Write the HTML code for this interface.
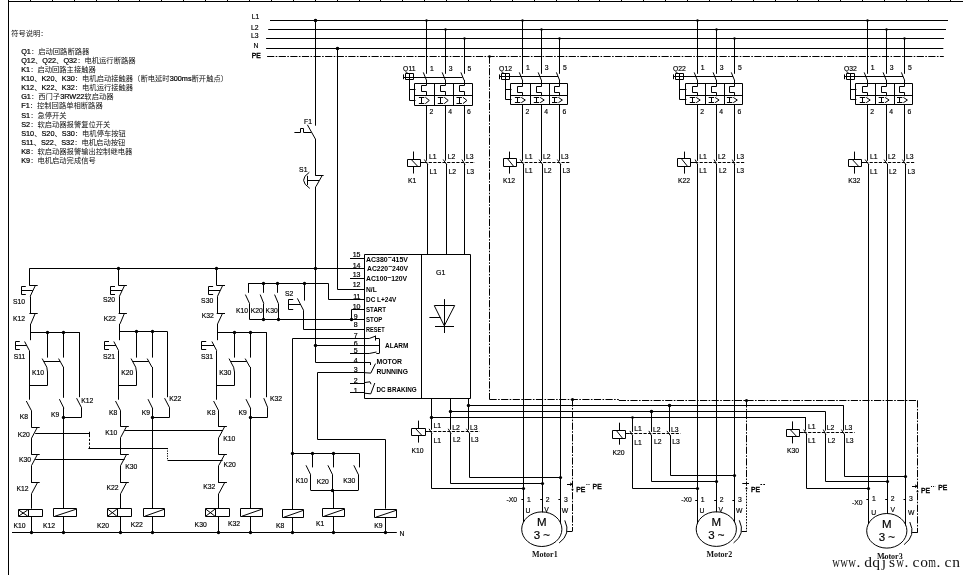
<!DOCTYPE html>
<html lang="zh"><head><meta charset="utf-8"><title>Soft starter wiring diagram</title>
<style>
html,body{margin:0;padding:0;background:#fff}
body{width:963px;height:575px;overflow:hidden}
svg{display:block;will-change:transform}
svg path,svg ellipse{fill:none;stroke:#000;stroke-width:1}
svg .d{fill:#000;stroke:none}
svg text{font-family:"Liberation Sans",sans-serif;font-size:6.8px;fill:#000;stroke:#000;stroke-width:.16px}
svg text.b{stroke-width:.4px}
svg text.c{stroke-width:.2px}
svg text.l{stroke-width:.2px}
svg text.g{font-weight:bold;stroke:none}
svg text.m{font-family:"Liberation Serif",serif;font-weight:bold;fill:#111;stroke:none}
svg text.w{font-family:"Liberation Serif",serif;font-size:15.5px;fill:#111;stroke:none;text-anchor:middle}
svg g.k text{font-family:"Liberation Sans","Noto Sans CJK SC",sans-serif;font-size:7.3px;fill:#111;stroke:none}
</style></head><body>
<svg width="963" height="575" viewBox="0 0 963 575">
<rect width="963" height="575" fill="#fff"/>
<g class="k">
<text x="11.2" y="36.07">符号说明：</text>
<text x="30.94" y="53.97">：启动回路断路器</text>
<text x="35" y="63.07">、</text>
<text x="56.09" y="63.07">、</text>
<text x="77.19" y="63.07">：电机运行断路器</text>
<text x="30.13" y="71.97">：启动回路主接触器</text>
<text x="34.19" y="81.07">、</text>
<text x="54.48" y="81.07">、</text>
<text x="74.76" y="81.07">：电机启动接触器（断电延时</text>
<text x="191.57" y="81.07">断开触点）</text>
<text x="34.19" y="90.17">、</text>
<text x="54.48" y="90.17">、</text>
<text x="74.76" y="90.17">：电机运行接触器</text>
<text x="30.94" y="99.07">：西门子</text>
<text x="84.35" y="99.07">软启动器</text>
<text x="29.72" y="107.97">：控制回路单相断路器</text>
<text x="30.13" y="118.27">：急停开关</text>
<text x="30.13" y="127.17">：软启动器报警复位开关</text>
<text x="34.19" y="136.27">、</text>
<text x="54.48" y="136.27">、</text>
<text x="74.76" y="136.27">：电机停车按钮</text>
<text x="33.65" y="145.17">、</text>
<text x="53.93" y="145.17">、</text>
<text x="74.22" y="145.17">：电机启动按钮</text>
<text x="30.13" y="154.27">：软启动器报警输出控制继电器</text>
<text x="30.13" y="163.17">：电机启动完成信号</text>
</g>
<text x="21.2" y="53.91" style="font-size:7.3px" class="l">Q1</text>
<text x="21.2" y="63.01" style="font-size:7.3px" class="l">Q12</text>
<text x="42.3" y="63.01" style="font-size:7.3px" class="l">Q22</text>
<text x="63.39" y="63.01" style="font-size:7.3px" class="l">Q32</text>
<text x="21.2" y="71.91" style="font-size:7.3px" class="l">K1</text>
<text x="21.2" y="81.01" style="font-size:7.3px" class="l">K10</text>
<text x="41.49" y="81.01" style="font-size:7.3px" class="l">K20</text>
<text x="61.78" y="81.01" style="font-size:7.3px" class="l">K30</text>
<text x="169.66" y="81.01" style="font-size:7.3px" class="l">300ms</text>
<text x="21.2" y="90.11" style="font-size:7.3px" class="l">K12</text>
<text x="41.49" y="90.11" style="font-size:7.3px" class="l">K22</text>
<text x="61.78" y="90.11" style="font-size:7.3px" class="l">K32</text>
<text x="21.2" y="99.01" style="font-size:7.3px" class="l">G1</text>
<text x="60.14" y="99.01" style="font-size:7.3px" class="l">3RW22</text>
<text x="21.2" y="107.91" style="font-size:7.3px" class="l">F1</text>
<text x="21.2" y="118.21" style="font-size:7.3px" class="l">S1</text>
<text x="21.2" y="127.11" style="font-size:7.3px" class="l">S2</text>
<text x="21.2" y="136.21" style="font-size:7.3px" class="l">S10</text>
<text x="41.49" y="136.21" style="font-size:7.3px" class="l">S20</text>
<text x="61.78" y="136.21" style="font-size:7.3px" class="l">S30</text>
<text x="21.2" y="145.11" style="font-size:7.3px" class="l">S11</text>
<text x="40.95" y="145.11" style="font-size:7.3px" class="l">S22</text>
<text x="61.23" y="145.11" style="font-size:7.3px" class="l">S32</text>
<text x="21.2" y="154.21" style="font-size:7.3px" class="l">K8</text>
<text x="21.2" y="163.11" style="font-size:7.3px" class="l">K9</text>
<path d="M8.5 1L8.5 575" stroke-width="1"/>
<path d="M8 1.5L963 1.5" stroke-width="1"/>
<path d="M8.5 0L8.5 1.5" stroke-width="1"/>
<path d="M30.5 0L30.5 1.5" stroke-width="1"/>
<path d="M52.5 0L52.5 1.5" stroke-width="1"/>
<path d="M74.5 0L74.5 1.5" stroke-width="1"/>
<path d="M96.5 0L96.5 1.5" stroke-width="1"/>
<path d="M118.5 0L118.5 1.5" stroke-width="1"/>
<path d="M139.5 0L139.5 1.5" stroke-width="1"/>
<path d="M161.5 0L161.5 1.5" stroke-width="1"/>
<path d="M183.5 0L183.5 1.5" stroke-width="1"/>
<path d="M205.5 0L205.5 1.5" stroke-width="1"/>
<path d="M227.5 0L227.5 1.5" stroke-width="1"/>
<path d="M249.5 0L249.5 1.5" stroke-width="1"/>
<path d="M271.5 0L271.5 1.5" stroke-width="1"/>
<path d="M293.5 0L293.5 1.5" stroke-width="1"/>
<path d="M315.5 0L315.5 1.5" stroke-width="1"/>
<path d="M337.5 0L337.5 1.5" stroke-width="1"/>
<path d="M359.5 0L359.5 1.5" stroke-width="1"/>
<path d="M380.5 0L380.5 1.5" stroke-width="1"/>
<path d="M402.5 0L402.5 1.5" stroke-width="1"/>
<path d="M424.5 0L424.5 1.5" stroke-width="1"/>
<path d="M446.5 0L446.5 1.5" stroke-width="1"/>
<path d="M468.5 0L468.5 1.5" stroke-width="1"/>
<path d="M490.5 0L490.5 1.5" stroke-width="1"/>
<path d="M512.5 0L512.5 1.5" stroke-width="1"/>
<path d="M534.5 0L534.5 1.5" stroke-width="1"/>
<path d="M556.5 0L556.5 1.5" stroke-width="1"/>
<path d="M578.5 0L578.5 1.5" stroke-width="1"/>
<path d="M599.5 0L599.5 1.5" stroke-width="1"/>
<path d="M621.5 0L621.5 1.5" stroke-width="1"/>
<path d="M643.5 0L643.5 1.5" stroke-width="1"/>
<path d="M665.5 0L665.5 1.5" stroke-width="1"/>
<path d="M687.5 0L687.5 1.5" stroke-width="1"/>
<path d="M709.5 0L709.5 1.5" stroke-width="1"/>
<path d="M731.5 0L731.5 1.5" stroke-width="1"/>
<path d="M753.5 0L753.5 1.5" stroke-width="1"/>
<path d="M775.5 0L775.5 1.5" stroke-width="1"/>
<path d="M797.5 0L797.5 1.5" stroke-width="1"/>
<path d="M818.5 0L818.5 1.5" stroke-width="1"/>
<path d="M840.5 0L840.5 1.5" stroke-width="1"/>
<path d="M862.5 0L862.5 1.5" stroke-width="1"/>
<path d="M884.5 0L884.5 1.5" stroke-width="1"/>
<path d="M906.5 0L906.5 1.5" stroke-width="1"/>
<path d="M928.5 0L928.5 1.5" stroke-width="1"/>
<path d="M950.5 0L950.5 1.5" stroke-width="1"/>
<path d="M270 20.5L948 20.5"/>
<path d="M268.2 29.5L946 29.5"/>
<path d="M266.1 38.5L944 38.5"/>
<path d="M266.1 48.5L943.3 48.5"/>
<path d="M267.1 56.5L943.8 56.5" stroke-dasharray="7.2 1.4 1.6 1.4"/>
<text x="251.8" y="19.13">L1</text>
<text x="251" y="29.83">L2</text>
<text x="251" y="38.23">L3</text>
<text x="253.4" y="47.83">N</text>
<text x="251.8" y="57.93" class="b">PE</text>
<path d="M426.5 20.2L426.5 73.8"/>
<circle cx="426.5" cy="20.5" r="1.2" class="d"/>
<path d="M423.3 72.4L426.5 80.3" stroke-width="1.35"/>
<path d="M426.5 80L426.5 85.5L421.5 85.5L421.5 91.5L426.5 91.5L426.5 96" stroke-width="1.35"/>
<path d="M418.9 97.5L424.3 97.5" stroke-width="1.1"/>
<path d="M418.9 103.5L424.3 103.5" stroke-width="1.1"/>
<path d="M421.5 97.5L421.5 103.4" stroke-width="1.2"/>
<path d="M425.3 97.2L429.3 100.45L425.3 103.7" stroke-width="1.25"/>
<text x="429.9" y="70.93">1</text>
<text x="429.4" y="114.33">2</text>
<path d="M445.5 29.5L445.5 73.8"/>
<circle cx="445.5" cy="29.5" r="1.2" class="d"/>
<path d="M442.2 72.4L445.4 80.3" stroke-width="1.35"/>
<path d="M445.5 80L445.5 85.5L440.5 85.5L440.5 91.5L445.5 91.5L445.5 96" stroke-width="1.35"/>
<path d="M437.8 97.5L443.2 97.5" stroke-width="1.1"/>
<path d="M437.8 103.5L443.2 103.5" stroke-width="1.1"/>
<path d="M440.5 97.5L440.5 103.4" stroke-width="1.2"/>
<path d="M444.2 97.2L448.2 100.45L444.2 103.7" stroke-width="1.25"/>
<text x="448.8" y="70.93">3</text>
<text x="448.3" y="114.33">4</text>
<path d="M464.5 38.5L464.5 73.8"/>
<circle cx="464.5" cy="38.5" r="1.2" class="d"/>
<path d="M460.9 72.4L464.1 80.3" stroke-width="1.35"/>
<path d="M464.5 80L464.5 85.5L459.5 85.5L459.5 91.5L464.5 91.5L464.5 96" stroke-width="1.35"/>
<path d="M456.5 97.5L461.9 97.5" stroke-width="1.1"/>
<path d="M456.5 103.5L461.9 103.5" stroke-width="1.1"/>
<path d="M459.5 97.5L459.5 103.4" stroke-width="1.2"/>
<path d="M462.9 97.2L466.9 100.45L462.9 103.7" stroke-width="1.25"/>
<text x="467.5" y="70.93">5</text>
<text x="467" y="114.33">6</text>
<path d="M414.5 83.5H472.5V105.5H414.5Z" stroke-width="1.35"/>
<path d="M414.3 95.5L472.4 95.5"/>
<path d="M434.5 83.2L434.5 105.4"/>
<path d="M453.5 83.2L453.5 105.4"/>
<path d="M403.5 77.5L462.5 77.5"/>
<path d="M403.5 74.4L403.5 79.2" stroke-width="1.2"/>
<path d="M405.5 73.5H413.5V79.5H405.5Z" stroke-width="1"/>
<path d="M409.5 73.9L409.5 79.3" stroke-width="1"/>
<path d="M409.5 79.3L409.5 100.5L415.5 100.5"/>
<path d="M409.5 89.5L415.5 89.5"/>
<text x="403.1" y="70.93">Q11</text>
<path d="M426.5 105.4L426.5 160.7"/>
<path d="M424.3 159.5L427.8 164.5" stroke-width="1.5"/>
<path d="M427.5 163.9L427.5 254.6"/>
<text x="428.9" y="159.03">L1</text>
<text x="429.5" y="173.73">L1</text>
<path d="M445.5 105.4L445.5 160.7"/>
<path d="M443.2 159.5L446.7 164.5" stroke-width="1.5"/>
<path d="M446.5 163.9L446.5 254.6"/>
<text x="447.7" y="159.03">L2</text>
<text x="448.4" y="173.73">L2</text>
<path d="M464.5 105.4L464.5 160.7"/>
<path d="M461.9 159.5L465 164.5" stroke-width="1.5"/>
<path d="M464.5 163.9L464.5 254.6"/>
<text x="466" y="159.03">L3</text>
<text x="466.6" y="173.73">L3</text>
<path d="M407.5 159.5H420.5V166.5H407.5Z" stroke-width="1.3"/>
<path d="M411.5 159.8L417.5 166.1" stroke-width="1.8"/>
<path d="M413.5 151.5L413.5 159.5"/>
<path d="M413.5 166.4L413.5 173.5"/>
<path d="M420.7 162.5L424.1 162.5"/>
<path d="M424.1 162.5L474.9 162.5" stroke-dasharray="3.2 1.4"/>
<text x="408" y="182.93">K1</text>
<path d="M364.5 254.5H470.5V398.5H364.5Z" stroke-width="1.35"/>
<path d="M421.5 254.6L421.5 398.2"/>
<text x="436" y="275.01" style="font-size:7px">G1</text>
<path d="M444.5 299.1L444.5 333"/>
<path d="M434.3 305.5L454.7 305.5L444.3 325.8L434.3 305.7" stroke-width="1.1"/>
<path d="M435 326.5L454 326.5"/>
<path d="M429.4 317.5L440.6 317.5"/>
<text x="360.5" y="257.11" text-anchor="end" class="c" style="font-size:7px">15</text>
<text x="360.5" y="268.11" text-anchor="end" class="c" style="font-size:7px">14</text>
<text x="360.5" y="276.71" text-anchor="end" class="c" style="font-size:7px">13</text>
<text x="360.5" y="287.11" text-anchor="end" class="c" style="font-size:7px">12</text>
<text x="360.5" y="298.81" text-anchor="end" class="c" style="font-size:7px">11</text>
<text x="360.5" y="308.91" text-anchor="end" class="c" style="font-size:7px">10</text>
<text x="357.6" y="318.61" text-anchor="end" class="c" style="font-size:7px">9</text>
<text x="357.6" y="327.11" text-anchor="end" class="c" style="font-size:7px">8</text>
<text x="357.6" y="338.21" text-anchor="end" class="c" style="font-size:7px">7</text>
<text x="357.6" y="345.51" text-anchor="end" class="c" style="font-size:7px">6</text>
<text x="357.6" y="352.71" text-anchor="end" class="c" style="font-size:7px">5</text>
<text x="357.6" y="362.81" text-anchor="end" class="c" style="font-size:7px">4</text>
<text x="357.6" y="371.71" text-anchor="end" class="c" style="font-size:7px">3</text>
<text x="357.6" y="382.91" text-anchor="end" class="c" style="font-size:7px">2</text>
<text x="357.6" y="392.51" text-anchor="end" class="c" style="font-size:7px">1</text>
<path d="M350 258.5L364.4 258.5"/>
<path d="M350 278.5L364.4 278.5"/>
<path d="M350 353.5L364.4 353.5"/>
<path d="M350 383.5L364.4 383.5"/>
<path d="M350 392.5L364.4 392.5"/>
<text x="366" y="262.01" class="g" textLength="42" lengthAdjust="spacingAndGlyphs" style="font-size:7px">AC380<tspan dy="-1.7">~</tspan><tspan dy="1.7">415V</tspan></text>
<text x="367" y="271.11" class="g" textLength="41" lengthAdjust="spacingAndGlyphs" style="font-size:7px">AC220<tspan dy="-1.7">~</tspan><tspan dy="1.7">240V</tspan></text>
<text x="366" y="281.21" class="g" textLength="41.2" lengthAdjust="spacingAndGlyphs" style="font-size:7px">AC100<tspan dy="-1.7">~</tspan><tspan dy="1.7">120V</tspan></text>
<text x="366" y="292.11" class="g" textLength="10.8" lengthAdjust="spacingAndGlyphs" style="font-size:7px">N/L</text>
<text x="366" y="301.91" class="g" textLength="30.3" lengthAdjust="spacingAndGlyphs" style="font-size:7px">DC L+24V</text>
<text x="366" y="312.01" class="g" textLength="20" lengthAdjust="spacingAndGlyphs" style="font-size:7px">START</text>
<text x="366" y="322.11" class="g" textLength="16.4" lengthAdjust="spacingAndGlyphs" style="font-size:7px">STOP</text>
<text x="366" y="332.01" class="g" textLength="18.6" lengthAdjust="spacingAndGlyphs" style="font-size:7px">RESET</text>
<text x="385" y="347.91" class="g" textLength="23.4" lengthAdjust="spacingAndGlyphs" style="font-size:7px">ALARM</text>
<text x="376.5" y="364.01" class="g" textLength="25.5" lengthAdjust="spacingAndGlyphs" style="font-size:7px">MOTOR</text>
<text x="376.5" y="373.91" class="g" textLength="31.5" lengthAdjust="spacingAndGlyphs" style="font-size:7px">RUNNING</text>
<text x="376.5" y="391.71" class="g" textLength="40.2" lengthAdjust="spacingAndGlyphs" style="font-size:7px">DC BRAKING</text>
<path d="M364.4 338.5L369.2 338.5L375.9 336"/>
<path d="M375.5 335.8L375.5 340.6"/>
<path d="M375.5 338.5L379.2 338.5"/>
<path d="M364.4 345.5L379.2 345.5"/>
<path d="M379.5 338.5L379.5 353.4"/>
<path d="M364.4 353.5L369.2 353.5L376.5 352"/>
<path d="M376.3 353.5L379.2 353.5"/>
<path d="M364.4 362.5L370.5 362.5L370.5 365"/>
<path d="M364.4 372.7L370.8 373.1L375.5 363.6" stroke-width="1.2"/>
<path d="M364.4 382.6L370 381.8L371 384.2"/>
<path d="M364.4 393.2L370.8 393.8L374.8 383" stroke-width="1.2"/>
<circle cx="315.5" cy="20.5" r="1.8" class="d"/>
<circle cx="337.5" cy="48.5" r="1.8" class="d"/>
<path d="M315.5 20.2L315.5 125.7"/>
<path d="M307.4 124.8L315.4 139" stroke-width="1.35"/>
<path d="M294.4 132.5L300.5 132.5L300.5 128.5L303.5 128.5L303.5 132.5L311.4 132.5"/>
<text x="304" y="123.83">F1</text>
<path d="M315.5 139L315.5 175.8"/>
<path d="M315.6 175.5L323.6 175.5"/>
<path d="M322 175.8L315.9 186.7" stroke-width="1.35"/>
<path d="M309.3 172.3Q297.6 180.2 309.8 188.4" stroke-width="1.4"/>
<path d="M307.5 175.8L307.5 185.2"/>
<path d="M307 180.5L319.2 180.5"/>
<text x="299.1" y="171.93">S1</text>
<path d="M315.5 186.7L315.5 362.5"/>
<path d="M315.6 362.5L364.4 362.5"/>
<circle cx="315.5" cy="268.5" r="1.7" class="d"/>
<circle cx="315.5" cy="345.5" r="1.7" class="d"/>
<path d="M315.6 345.5L364.4 345.5"/>
<path d="M337.5 48.4L337.5 289.5L364.4 289.5"/>
<path d="M29.4 268.5L364.4 268.5"/>
<path d="M248.2 283.5L328.5 283.5L328.5 299.5L364.4 299.5"/>
<path d="M249.6 319.5L364.4 319.5"/>
<path d="M248.5 283.2L248.5 292.8"/>
<path d="M245.4 294.6L249.6 303.6" stroke-width="1.35"/>
<path d="M249.5 303.6L249.5 319.6"/>
<text x="236" y="312.73">K10</text>
<path d="M263.5 283.2L263.5 292.8"/>
<path d="M260.2 294.6L263.8 303.6" stroke-width="1.35"/>
<path d="M263.5 303.6L263.5 319.6"/>
<circle cx="263.5" cy="283.5" r="1.7" class="d"/>
<circle cx="263.5" cy="319.5" r="1.7" class="d"/>
<text x="250.7" y="312.73">K20</text>
<path d="M277.5 283.2L277.5 292.8"/>
<path d="M274.6 294.6L278.4 303.6" stroke-width="1.35"/>
<path d="M278.5 303.6L278.5 319.6"/>
<circle cx="277.5" cy="283.5" r="1.7" class="d"/>
<circle cx="278.5" cy="319.5" r="1.7" class="d"/>
<text x="265.6" y="312.73">K30</text>
<circle cx="304.5" cy="283.5" r="1.7" class="d"/>
<path d="M304.5 283.2L304.5 300.6"/>
<path d="M297.4 298.4L303.5 310.2L303.5 329.5L364.4 329.5"/>
<path d="M293.2 299.5L288.5 299.5L288.5 309.5L293.2 309.5"/>
<path d="M288.5 304.5L300.8 304.5"/>
<text x="285" y="295.83">S2</text>
<path d="M364.4 309.5L351.5 309.5L351.5 319.6"/>
<circle cx="351.5" cy="319.5" r="1.7" class="d"/>
<path d="M29.5 268.4L29.5 285.6"/>
<path d="M29.4 285.5L37.7 285.5"/>
<path d="M35.3 285.6L30.2 296.3" stroke-width="1.35"/>
<path d="M25.8 286.5L21.5 286.5L21.5 294.5L25.8 294.5"/>
<path d="M21.4 290.5L32.8 290.5"/>
<text x="13" y="303.73">S10</text>
<path d="M30.5 296.3L30.5 313.2"/>
<path d="M29.4 313.5L37.7 313.5"/>
<path d="M35.3 313.2L30.8 323.9" stroke-width="1.35"/>
<text x="12.9" y="321.03">K12</text>
<path d="M30.5 323.9L30.5 340.2"/>
<path d="M30.6 332.5L79.5 332.5"/>
<circle cx="47.5" cy="332.5" r="1.7" class="d"/>
<circle cx="63.5" cy="332.5" r="1.7" class="d"/>
<path d="M24.6 341.5L29.4 350.6" stroke-width="1.35"/>
<path d="M19.8 341.5L15.5 341.5L15.5 349.5L19.8 349.5"/>
<path d="M15.4 345.5L26.8 345.5"/>
<text x="13.7" y="359.03">S11</text>
<path d="M29.5 350.6L29.5 399.7"/>
<path d="M47.5 332.2L47.5 357.6"/>
<path d="M42.2 358.6L46.8 367.2" stroke-width="1.35"/>
<path d="M46.8 367.2L47.5 372L47.5 385.5L29.4 385.5"/>
<path d="M63.5 332.2L63.5 357.6"/>
<path d="M58.6 358.6L63.4 367.2" stroke-width="1.35"/>
<path d="M63.5 367L63.5 397.8"/>
<path d="M43.6 361.5L60.2 361.5"/>
<text x="32" y="375.13">K10</text>
<path d="M26.3 401L31.4 410.6" stroke-width="1.35"/>
<text x="19.8" y="418.73">K8</text>
<path d="M59.4 399.2L63.9 408.2" stroke-width="1.35"/>
<text x="51" y="416.83">K9</text>
<circle cx="63.5" cy="417.5" r="1.7" class="d"/>
<path d="M63.5 408L63.5 508.7"/>
<path d="M79.5 332.2L79.5 397.2"/>
<path d="M76.6 398.2L81.5 407.6" stroke-width="1.35"/>
<path d="M81.5 407.4L81.5 417.5L63.8 417.5"/>
<text x="81.2" y="402.93">K12</text>
<path d="M31.5 410.4L31.5 427.4"/>
<path d="M31.4 427.5L39.7 427.5"/>
<path d="M37.3 427.4L31.6 438.1" stroke-width="1.35"/>
<path d="M31.5 438.1L31.5 454.7"/>
<path d="M31.4 454.5L39.7 454.5"/>
<path d="M37.3 454.7L31.6 465.4" stroke-width="1.35"/>
<path d="M31.5 465.4L31.5 482.9"/>
<path d="M31.4 482.5L39.7 482.5"/>
<path d="M37.3 482.9L31.6 493.6" stroke-width="1.35"/>
<path d="M31.5 493.6L31.5 508.7"/>
<circle cx="118.5" cy="268.5" r="1.7" class="d"/>
<path d="M118.5 268.4L118.5 285.6"/>
<path d="M118.6 285.5L126.9 285.5"/>
<path d="M124.5 285.6L119.4 296.3" stroke-width="1.35"/>
<path d="M115 286.5L110.5 286.5L110.5 294.5L115 294.5"/>
<path d="M110.6 290.5L122 290.5"/>
<text x="103" y="302.03">S20</text>
<path d="M119.5 296.3L119.5 313.2"/>
<path d="M118.6 313.5L126.9 313.5"/>
<path d="M124.5 313.2L120 323.9" stroke-width="1.35"/>
<text x="103.7" y="321.03">K22</text>
<path d="M119.5 323.9L119.5 340.2"/>
<path d="M119.8 331.5L167.5 331.5"/>
<circle cx="136.5" cy="331.5" r="1.7" class="d"/>
<circle cx="152.5" cy="331.5" r="1.7" class="d"/>
<path d="M113.8 341.5L118.6 350.6" stroke-width="1.35"/>
<path d="M109 341.5L104.5 341.5L104.5 349.5L109 349.5"/>
<path d="M104.6 345.5L116 345.5"/>
<text x="102.9" y="359.03">S21</text>
<path d="M118.5 350.6L118.5 399.7"/>
<path d="M136.5 331.6L136.5 357.6"/>
<path d="M131.1 358.6L135.7 367.2" stroke-width="1.35"/>
<path d="M135.7 367.2L136.5 372L136.5 385.5L118.6 385.5"/>
<path d="M152.5 331.6L152.5 357.6"/>
<path d="M147.2 358.6L152 367.2" stroke-width="1.35"/>
<path d="M152.5 367L152.5 397.8"/>
<path d="M132.5 361.5L148.8 361.5"/>
<text x="121.2" y="375.13">K20</text>
<path d="M115.5 401L120.5 410.6" stroke-width="1.35"/>
<text x="109" y="414.83">K8</text>
<path d="M148 399.2L152.5 408.2" stroke-width="1.35"/>
<text x="141.7" y="414.63">K9</text>
<circle cx="152.5" cy="417.5" r="1.7" class="d"/>
<path d="M152.5 408L152.5 508.7"/>
<path d="M167.5 331.6L167.5 397.2"/>
<path d="M164.6 398.2L169.5 407.6" stroke-width="1.35"/>
<path d="M169.5 407.4L169.5 417.5L152.4 417.5"/>
<text x="169.2" y="401.03">K22</text>
<path d="M120.5 410.4L120.5 426.7"/>
<path d="M120.5 426.5L128.8 426.5"/>
<path d="M126.4 426.7L120.7 437.4" stroke-width="1.35"/>
<path d="M120.5 437.4L120.5 454.7"/>
<path d="M120.5 454.5L128.8 454.5"/>
<path d="M126.4 454.7L120.7 465.4" stroke-width="1.35"/>
<path d="M120.5 465.4L120.5 482.9"/>
<path d="M120.5 482.5L128.8 482.5"/>
<path d="M126.4 482.9L120.7 493.6" stroke-width="1.35"/>
<path d="M120.5 493.6L120.5 508.7"/>
<circle cx="216.5" cy="268.5" r="1.7" class="d"/>
<path d="M216.5 268.4L216.5 285.6"/>
<path d="M216.7 285.5L225 285.5"/>
<path d="M222.6 285.6L217.5 296.3" stroke-width="1.35"/>
<path d="M213.1 286.5L208.5 286.5L208.5 294.5L213.1 294.5"/>
<path d="M208.7 290.5L220.1 290.5"/>
<text x="201.1" y="302.63">S30</text>
<path d="M217.5 296.3L217.5 313.2"/>
<path d="M216.7 313.5L225 313.5"/>
<path d="M222.6 313.2L217.6 323.9" stroke-width="1.35"/>
<text x="201.8" y="318.03">K32</text>
<path d="M217.5 323.9L217.5 340.2"/>
<path d="M217.4 332.5L266.7 332.5"/>
<circle cx="234.5" cy="332.5" r="1.7" class="d"/>
<circle cx="250.5" cy="332.5" r="1.7" class="d"/>
<path d="M211.9 341.5L216.7 350.6" stroke-width="1.35"/>
<path d="M206.2 341.5L201.5 341.5L201.5 349.5L206.2 349.5"/>
<path d="M201.8 345.5L214.1 345.5"/>
<text x="201" y="359.03">S31</text>
<path d="M216.5 350.6L216.5 399.7"/>
<path d="M234.5 332.3L234.5 357.6"/>
<path d="M229 358.6L233.6 367.2" stroke-width="1.35"/>
<path d="M233.6 367.2L234.5 372L234.5 385.5L216.7 385.5"/>
<path d="M250.5 332.3L250.5 357.6"/>
<path d="M245.2 358.6L250 367.2" stroke-width="1.35"/>
<path d="M250.5 367L250.5 397.8"/>
<path d="M230.4 361.5L246.8 361.5"/>
<text x="219.3" y="375.13">K30</text>
<path d="M213.6 401L218.6 410.6" stroke-width="1.35"/>
<text x="207.1" y="414.83">K8</text>
<path d="M246 399.2L250.5 408.2" stroke-width="1.35"/>
<text x="238.5" y="414.63">K9</text>
<circle cx="250.5" cy="417.5" r="1.7" class="d"/>
<path d="M250.5 408L250.5 508.7"/>
<path d="M266.5 332.3L266.5 397.2"/>
<path d="M263.8 398.2L267.7 407.6" stroke-width="1.35"/>
<path d="M267.5 407.4L267.5 417.5L250.4 417.5"/>
<text x="269.9" y="401.03">K32</text>
<path d="M218.5 410.4L218.5 426.9"/>
<path d="M218.6 426.5L226.9 426.5"/>
<path d="M224.5 426.9L218.8 437.6" stroke-width="1.35"/>
<path d="M218.5 437.6L218.5 454.7"/>
<path d="M218.6 454.5L226.9 454.5"/>
<path d="M224.5 454.7L218.8 465.4" stroke-width="1.35"/>
<path d="M218.5 465.4L218.5 482.9"/>
<path d="M218.6 482.5L226.9 482.5"/>
<path d="M224.5 482.9L218.8 493.6" stroke-width="1.35"/>
<path d="M218.5 493.6L218.5 508.7"/>
<text x="17.8" y="437.03">K20</text>
<text x="18.9" y="461.73">K30</text>
<text x="16.4" y="490.63">K12</text>
<text x="105.2" y="435.03">K10</text>
<text x="125.2" y="469.03">K30</text>
<text x="106.4" y="490.03">K22</text>
<text x="223.2" y="441.03">K10</text>
<text x="223.6" y="467.13">K20</text>
<text x="203.3" y="489.03">K32</text>
<path d="M35.2 433.5L89.6 433.5"/>
<path d="M89.5 431.8L89.5 435.2"/>
<path d="M89.5 435L89.5 448" stroke-dasharray="2.2 1.6"/>
<path d="M88.4 448.5L167.8 448.5"/>
<path d="M167.5 448L167.5 460.6" stroke-dasharray="1.2 1.3"/>
<path d="M167.6 460.5L222.6 460.5"/>
<path d="M35.2 459.5L124.6 459.5"/>
<path d="M124.6 430.5L222.8 430.5"/>
<path d="M18.5 509.5H42.5V516.5H18.5Z" stroke-width="1.3"/>
<path d="M28.5 509.5L28.5 516.6" stroke-width="1.2"/>
<path d="M18.7 510L27.7 516.1" stroke-width="1.2"/>
<path d="M18.7 516.1L27.7 510" stroke-width="1.2"/>
<path d="M31.5 516.6L31.5 532.6"/>
<circle cx="31.5" cy="532.5" r="1.7" class="d"/>
<text x="13.5" y="528.13">K10</text>
<path d="M53.5 508.5H76.5V516.5H53.5Z" stroke-width="1.3"/>
<path d="M55 516.2L75.9 509.3" stroke-width="1.5"/>
<path d="M63.5 516.6L63.5 532.6"/>
<circle cx="63.5" cy="532.5" r="1.7" class="d"/>
<text x="43" y="528.13">K12</text>
<path d="M107.5 508.5H131.5V516.5H107.5Z" stroke-width="1.3"/>
<path d="M117.5 508.7L117.5 516.6" stroke-width="1.2"/>
<path d="M107.8 509.2L116.8 516.1" stroke-width="1.2"/>
<path d="M107.8 516.1L116.8 509.2" stroke-width="1.2"/>
<path d="M120.5 516.6L120.5 532.6"/>
<circle cx="120.5" cy="532.5" r="1.7" class="d"/>
<text x="97" y="528.13">K20</text>
<path d="M143.5 508.5H164.5V516.5H143.5Z" stroke-width="1.3"/>
<path d="M144.9 516.2L164.2 509.3" stroke-width="1.5"/>
<path d="M152.5 516.6L152.5 532.6"/>
<circle cx="152.5" cy="532.5" r="1.7" class="d"/>
<text x="130.8" y="526.63">K22</text>
<path d="M205.5 508.5H229.5V516.5H205.5Z" stroke-width="1.3"/>
<path d="M215.5 508.7L215.5 516.6" stroke-width="1.2"/>
<path d="M205.9 509.2L214.9 516.1" stroke-width="1.2"/>
<path d="M205.9 516.1L214.9 509.2" stroke-width="1.2"/>
<path d="M218.5 516.6L218.5 532.6"/>
<circle cx="218.5" cy="532.5" r="1.7" class="d"/>
<text x="194.6" y="527.33">K30</text>
<path d="M240.5 508.5H262.5V516.5H240.5Z" stroke-width="1.3"/>
<path d="M242 516.2L261.6 509.3" stroke-width="1.5"/>
<path d="M250.5 516.6L250.5 532.6"/>
<circle cx="250.5" cy="532.5" r="1.7" class="d"/>
<text x="228" y="525.63">K32</text>
<path d="M282.5 509.5H303.5V517.5H282.5Z" stroke-width="1.3"/>
<path d="M284 517.2L303.5 510.3" stroke-width="1.5"/>
<path d="M292.5 517.6L292.5 532.6"/>
<circle cx="292.5" cy="532.5" r="1.7" class="d"/>
<text x="276" y="528.43">K8</text>
<path d="M322.5 508.5H344.5V516.5H322.5Z" stroke-width="1.3"/>
<path d="M324.2 516.2L344 509.3" stroke-width="1.5"/>
<path d="M333.5 516.6L333.5 532.6"/>
<circle cx="333.5" cy="532.5" r="1.7" class="d"/>
<text x="316" y="526.23">K1</text>
<path d="M374.5 509.5H396.5V517.5H374.5Z" stroke-width="1.3"/>
<path d="M375.8 517.2L396.3 510.3" stroke-width="1.5"/>
<path d="M385.5 517.6L385.5 532.6"/>
<circle cx="385.5" cy="532.5" r="1.7" class="d"/>
<text x="374.2" y="528.43">K9</text>
<path d="M12 532.5L396.8 532.5"/>
<text x="399.6" y="536.23">N</text>
<path d="M364.4 338.5L292.5 338.5L292.5 509.7"/>
<circle cx="292.5" cy="453.5" r="1.7" class="d"/>
<path d="M292.6 453.5L359.6 453.5"/>
<path d="M312.5 453.8L312.5 467.4"/>
<path d="M306 465.3L310.6 474.6" stroke-width="1.35"/>
<path d="M310.5 474.4L310.5 490.2"/>
<circle cx="312.5" cy="453.5" r="1.7" class="d"/>
<text x="295.7" y="482.83">K10</text>
<path d="M333.5 453.8L333.5 467.4"/>
<path d="M327.9 465.3L332.5 474.6" stroke-width="1.35"/>
<path d="M332.5 474.4L332.5 490.2"/>
<circle cx="333.5" cy="453.5" r="1.7" class="d"/>
<text x="316.7" y="483.93">K20</text>
<path d="M359.5 453.8L359.5 467.4"/>
<path d="M353.8 465.3L358.4 474.6" stroke-width="1.35"/>
<path d="M358.5 474.4L358.5 490.2"/>
<text x="343.3" y="482.83">K30</text>
<path d="M310.6 490.5L358.4 490.5"/>
<circle cx="332.5" cy="490.5" r="1.7" class="d"/>
<path d="M333.5 490.2L333.5 508.7"/>
<path d="M364.4 372.5L317.5 372.5L317.5 439.5L385.5 439.5L385.5 508.7"/>
<path d="M522.5 20.2L522.5 73.8"/>
<circle cx="522.5" cy="20.5" r="1.2" class="d"/>
<path d="M519.3 72.4L522.5 80.3" stroke-width="1.35"/>
<path d="M522.5 80L522.5 86.5L517.5 86.5L517.5 92.5L522.5 92.5L522.5 96.2" stroke-width="1.35"/>
<path d="M514.9 97.5L520.3 97.5" stroke-width="1.1"/>
<path d="M514.9 102.5L520.3 102.5" stroke-width="1.1"/>
<path d="M517.5 97.7L517.5 102.4" stroke-width="1.2"/>
<path d="M521.3 97.4L525.3 100.05L521.3 102.7" stroke-width="1.25"/>
<text x="525.9" y="70.23">1</text>
<text x="525.4" y="114.33">2</text>
<path d="M541.5 29.5L541.5 73.8"/>
<circle cx="541.5" cy="29.5" r="1.2" class="d"/>
<path d="M538.2 72.4L541.4 80.3" stroke-width="1.35"/>
<path d="M541.5 80L541.5 86.5L536.5 86.5L536.5 92.5L541.5 92.5L541.5 96.2" stroke-width="1.35"/>
<path d="M533.8 97.5L539.2 97.5" stroke-width="1.1"/>
<path d="M533.8 102.5L539.2 102.5" stroke-width="1.1"/>
<path d="M536.5 97.7L536.5 102.4" stroke-width="1.2"/>
<path d="M540.2 97.4L544.2 100.05L540.2 102.7" stroke-width="1.25"/>
<text x="544.8" y="70.23">3</text>
<text x="544.3" y="114.33">4</text>
<path d="M559.5 38.5L559.5 73.8"/>
<circle cx="559.5" cy="38.5" r="1.2" class="d"/>
<path d="M556.4 72.4L559.6 80.3" stroke-width="1.35"/>
<path d="M559.5 80L559.5 86.5L554.5 86.5L554.5 92.5L559.5 92.5L559.5 96.2" stroke-width="1.35"/>
<path d="M552 97.5L557.4 97.5" stroke-width="1.1"/>
<path d="M552 102.5L557.4 102.5" stroke-width="1.1"/>
<path d="M554.5 97.7L554.5 102.4" stroke-width="1.2"/>
<path d="M558.4 97.4L562.4 100.05L558.4 102.7" stroke-width="1.25"/>
<text x="563" y="70.23">5</text>
<text x="562.5" y="114.33">6</text>
<path d="M510.5 83.5H567.5V104.5H510.5Z" stroke-width="1.35"/>
<path d="M510.3 95.5L567.9 95.5"/>
<path d="M530.5 83.4L530.5 104.4"/>
<path d="M549.5 83.4L549.5 104.4"/>
<path d="M499.5 76.5L558 76.5"/>
<path d="M499.5 74.4L499.5 79.2" stroke-width="1.2"/>
<path d="M501.5 73.5H509.5V79.5H501.5Z" stroke-width="1"/>
<path d="M505.5 73.9L505.5 79.3" stroke-width="1"/>
<path d="M505.5 79.3L505.5 99.5L511.5 99.5"/>
<path d="M505.5 89.5L511.5 89.5"/>
<text x="499.1" y="70.93">Q12</text>
<path d="M522.5 104.4L522.5 160.8"/>
<path d="M520.3 159.6L523.8 164.6" stroke-width="1.5"/>
<path d="M523.5 164L523.5 522.36"/>
<text x="524.9" y="158.93">L1</text>
<text x="525" y="173.03">L1</text>
<path d="M541.5 104.4L541.5 160.8"/>
<path d="M539.2 159.6L542.6 164.6" stroke-width="1.5"/>
<path d="M542.5 164L542.5 512.41"/>
<text x="543" y="158.93">L2</text>
<text x="544.1" y="173.03">L2</text>
<path d="M559.5 104.4L559.5 160.8"/>
<path d="M557.4 159.6L560.8 164.6" stroke-width="1.5"/>
<path d="M560.5 164L560.5 523.58"/>
<text x="561" y="158.93">L3</text>
<text x="562.5" y="173.03">L3</text>
<path d="M503.5 158.5H516.5V166.5H503.5Z" stroke-width="1.3"/>
<path d="M507.6 158.8L513.6 166.3" stroke-width="1.8"/>
<path d="M509.5 151.6L509.5 158.5"/>
<path d="M509.5 166.6L509.5 173.6"/>
<path d="M516.9 162.5L520.1 162.5"/>
<path d="M520.1 162.5L570.6 162.5" stroke-dasharray="3.2 1.4"/>
<text x="502.9" y="182.93">K12</text>
<ellipse cx="541.8" cy="529.2" rx="20.1" ry="17.3" stroke-width="1.45"/>
<text x="541.8" y="525.82" text-anchor="middle" class="c" style="font-size:11.5px">M</text>
<text x="541.8" y="539.12" text-anchor="middle" class="c" style="font-size:11.5px">3 ~</text>
<path d="M564.8 520.4Q571.3 534.2 559.1 543" stroke-width="1.2"/>
<path d="M567.1 531.5L572.4 531.5"/>
<path d="M521.4 499.5L523.6 499.5" stroke-width="1.5"/>
<text x="527" y="501.83">1</text>
<text x="525.6" y="512.83">U</text>
<path d="M540.2 499.5L542.4 499.5" stroke-width="1.5"/>
<text x="545.8" y="501.83">2</text>
<text x="544.3" y="512.23">V</text>
<path d="M558.4 499.5L560.6 499.5" stroke-width="1.5"/>
<text x="564" y="501.83">3</text>
<text x="561.8" y="513.03">W</text>
<text x="506.4" y="502.03">-X0</text>
<text x="544.8" y="557.46" text-anchor="middle" class="m" style="font-size:8px">Motor1</text>
<path d="M697.5 20.2L697.5 73.8"/>
<circle cx="697.5" cy="20.5" r="1.2" class="d"/>
<path d="M694.2 72.4L697.4 80.3" stroke-width="1.35"/>
<path d="M697.5 80L697.5 86.5L692.5 86.5L692.5 92.5L697.5 92.5L697.5 96.2" stroke-width="1.35"/>
<path d="M689.8 97.5L695.2 97.5" stroke-width="1.1"/>
<path d="M689.8 102.5L695.2 102.5" stroke-width="1.1"/>
<path d="M692.5 97.7L692.5 102.4" stroke-width="1.2"/>
<path d="M696.2 97.4L700.2 100.05L696.2 102.7" stroke-width="1.25"/>
<text x="700.8" y="70.23">1</text>
<text x="700.3" y="114.33">2</text>
<path d="M716.5 29.5L716.5 73.8"/>
<circle cx="716.5" cy="29.5" r="1.2" class="d"/>
<path d="M713.1 72.4L716.3 80.3" stroke-width="1.35"/>
<path d="M716.5 80L716.5 86.5L711.5 86.5L711.5 92.5L716.5 92.5L716.5 96.2" stroke-width="1.35"/>
<path d="M708.7 97.5L714.1 97.5" stroke-width="1.1"/>
<path d="M708.7 102.5L714.1 102.5" stroke-width="1.1"/>
<path d="M711.5 97.7L711.5 102.4" stroke-width="1.2"/>
<path d="M715.1 97.4L719.1 100.05L715.1 102.7" stroke-width="1.25"/>
<text x="719.7" y="70.23">3</text>
<text x="719.2" y="114.33">4</text>
<path d="M734.5 38.5L734.5 73.8"/>
<circle cx="734.5" cy="38.5" r="1.2" class="d"/>
<path d="M731.3 72.4L734.5 80.3" stroke-width="1.35"/>
<path d="M734.5 80L734.5 86.5L729.5 86.5L729.5 92.5L734.5 92.5L734.5 96.2" stroke-width="1.35"/>
<path d="M726.9 97.5L732.3 97.5" stroke-width="1.1"/>
<path d="M726.9 102.5L732.3 102.5" stroke-width="1.1"/>
<path d="M729.5 97.7L729.5 102.4" stroke-width="1.2"/>
<path d="M733.3 97.4L737.3 100.05L733.3 102.7" stroke-width="1.25"/>
<text x="737.9" y="70.23">5</text>
<text x="737.4" y="114.33">6</text>
<path d="M685.5 83.5H742.5V104.5H685.5Z" stroke-width="1.35"/>
<path d="M685.2 95.5L742.8 95.5"/>
<path d="M705.5 83.4L705.5 104.4"/>
<path d="M724.5 83.4L724.5 104.4"/>
<path d="M673.4 76.5L732.9 76.5"/>
<path d="M673.5 74.4L673.5 79.2" stroke-width="1.2"/>
<path d="M675.5 73.5H683.5V79.5H675.5Z" stroke-width="1"/>
<path d="M679.5 73.9L679.5 79.3" stroke-width="1"/>
<path d="M679.5 79.3L679.5 99.5L686.4 99.5"/>
<path d="M679.4 89.5L686.4 89.5"/>
<text x="673" y="70.93">Q22</text>
<path d="M697.5 104.4L697.5 160.8"/>
<path d="M695.2 159.6L697.6 164.6" stroke-width="1.5"/>
<path d="M697.5 164L697.5 523.71"/>
<text x="699.2" y="158.93">L1</text>
<text x="699.2" y="173.03">L1</text>
<path d="M716.5 104.4L716.5 160.8"/>
<path d="M714.1 159.6L716.6 164.6" stroke-width="1.5"/>
<path d="M716.5 164L716.5 512.3"/>
<text x="718" y="158.93">L2</text>
<text x="719.1" y="173.03">L2</text>
<path d="M734.5 104.4L734.5 160.8"/>
<path d="M732.3 159.6L734.8 164.6" stroke-width="1.5"/>
<path d="M734.5 164L734.5 522.44"/>
<text x="736.4" y="158.93">L3</text>
<text x="736.4" y="173.03">L3</text>
<path d="M677.5 158.5H690.5V166.5H677.5Z" stroke-width="1.3"/>
<path d="M681.5 158.8L687.5 166.3" stroke-width="1.8"/>
<path d="M684.5 151.6L684.5 158.5"/>
<path d="M684.5 166.6L684.5 173.6"/>
<path d="M690.7 162.5L695 162.5"/>
<path d="M695 162.5L745.6 162.5" stroke-dasharray="3.2 1.4"/>
<text x="677.9" y="182.93">K22</text>
<ellipse cx="716.3" cy="529.1" rx="20.1" ry="17.3" stroke-width="1.45"/>
<text x="716.3" y="525.72" text-anchor="middle" class="c" style="font-size:11.5px">M</text>
<text x="716.3" y="539.02" text-anchor="middle" class="c" style="font-size:11.5px">3 ~</text>
<path d="M739.3 520.3Q745.8 534.1 733.6 542.9" stroke-width="1.2"/>
<path d="M741.6 531.5L746.9 531.5"/>
<path d="M695.2 500.5L697.4 500.5" stroke-width="1.5"/>
<text x="700.8" y="502.23">1</text>
<text x="699.6" y="513.03">U</text>
<path d="M714.2 500.5L716.4 500.5" stroke-width="1.5"/>
<text x="719.8" y="502.23">2</text>
<text x="718.4" y="512.23">V</text>
<path d="M732.4 500.5L734.6 500.5" stroke-width="1.5"/>
<text x="738" y="502.23">3</text>
<text x="736" y="513.43">W</text>
<text x="681.3" y="502.43">-X0</text>
<text x="719.3" y="557.46" text-anchor="middle" class="m" style="font-size:8px">Motor2</text>
<path d="M867.5 20.2L867.5 73.8"/>
<circle cx="867.5" cy="20.5" r="1.2" class="d"/>
<path d="M864.2 72.4L867.4 80.3" stroke-width="1.35"/>
<path d="M867.5 80L867.5 86.5L862.5 86.5L862.5 92.5L867.5 92.5L867.5 96.2" stroke-width="1.35"/>
<path d="M859.8 97.5L865.2 97.5" stroke-width="1.1"/>
<path d="M859.8 102.5L865.2 102.5" stroke-width="1.1"/>
<path d="M862.5 97.7L862.5 102.4" stroke-width="1.2"/>
<path d="M866.2 97.4L870.2 100.05L866.2 102.7" stroke-width="1.25"/>
<text x="870.8" y="70.23">1</text>
<text x="870.3" y="114.33">2</text>
<path d="M886.5 29.5L886.5 73.8"/>
<circle cx="886.5" cy="29.5" r="1.2" class="d"/>
<path d="M883.1 72.4L886.3 80.3" stroke-width="1.35"/>
<path d="M886.5 80L886.5 86.5L881.5 86.5L881.5 92.5L886.5 92.5L886.5 96.2" stroke-width="1.35"/>
<path d="M878.7 97.5L884.1 97.5" stroke-width="1.1"/>
<path d="M878.7 102.5L884.1 102.5" stroke-width="1.1"/>
<path d="M881.5 97.7L881.5 102.4" stroke-width="1.2"/>
<path d="M885.1 97.4L889.1 100.05L885.1 102.7" stroke-width="1.25"/>
<text x="889.7" y="70.23">3</text>
<text x="889.2" y="114.33">4</text>
<path d="M904.5 38.5L904.5 73.8"/>
<circle cx="904.5" cy="38.5" r="1.2" class="d"/>
<path d="M901.4 72.4L904.6 80.3" stroke-width="1.35"/>
<path d="M904.5 80L904.5 86.5L899.5 86.5L899.5 92.5L904.5 92.5L904.5 96.2" stroke-width="1.35"/>
<path d="M897 97.5L902.4 97.5" stroke-width="1.1"/>
<path d="M897 102.5L902.4 102.5" stroke-width="1.1"/>
<path d="M899.5 97.7L899.5 102.4" stroke-width="1.2"/>
<path d="M903.4 97.4L907.4 100.05L903.4 102.7" stroke-width="1.25"/>
<text x="908" y="70.23">5</text>
<text x="907.5" y="114.33">6</text>
<path d="M855.5 83.5H912.5V104.5H855.5Z" stroke-width="1.35"/>
<path d="M855.2 95.5L912.9 95.5"/>
<path d="M875.5 83.4L875.5 104.4"/>
<path d="M894.5 83.4L894.5 104.4"/>
<path d="M844.4 76.5L903 76.5"/>
<path d="M844.5 74.4L844.5 79.2" stroke-width="1.2"/>
<path d="M846.5 73.5H854.5V79.5H846.5Z" stroke-width="1"/>
<path d="M850.5 73.9L850.5 79.3" stroke-width="1"/>
<path d="M850.5 79.3L850.5 99.5L856.4 99.5"/>
<path d="M850.4 89.5L856.4 89.5"/>
<text x="844" y="70.93">Q32</text>
<path d="M867.5 104.4L867.5 160.8"/>
<path d="M865.2 159.6L868.8 164.6" stroke-width="1.5"/>
<path d="M868.5 164L868.5 523.96"/>
<text x="869.9" y="158.93">L1</text>
<text x="870" y="173.73">L1</text>
<path d="M886.5 104.4L886.5 160.8"/>
<path d="M884.1 159.6L887.6 164.6" stroke-width="1.5"/>
<path d="M887.5 164L887.5 514.01"/>
<text x="888" y="158.93">L2</text>
<text x="889.1" y="173.73">L2</text>
<path d="M904.5 104.4L904.5 160.8"/>
<path d="M902.4 159.6L905.9 164.6" stroke-width="1.5"/>
<path d="M905.5 164L905.5 525.41"/>
<text x="906" y="158.93">L3</text>
<text x="907.5" y="173.73">L3</text>
<path d="M848.5 159.5H861.5V166.5H848.5Z" stroke-width="1.3"/>
<path d="M852.6 159.8L858.6 166.3" stroke-width="1.8"/>
<path d="M854.5 151.6L854.5 159.5"/>
<path d="M854.5 166.6L854.5 173.6"/>
<path d="M861.9 162.5L865 162.5"/>
<path d="M865 162.5L915.6 162.5" stroke-dasharray="3.2 1.4"/>
<text x="848.2" y="182.93">K32</text>
<ellipse cx="886.8" cy="530.8" rx="20.1" ry="17.3" stroke-width="1.45"/>
<text x="886.8" y="527.82" text-anchor="middle" class="c" style="font-size:11.5px">M</text>
<text x="886.8" y="541.12" text-anchor="middle" class="c" style="font-size:11.5px">3 ~</text>
<path d="M909.8 522Q916.3 535.8 904.1 544.6" stroke-width="1.2"/>
<path d="M912.1 532.5L917.4 532.5"/>
<path d="M866.4 499.5L868.6 499.5" stroke-width="1.5"/>
<text x="872" y="501.23">1</text>
<text x="871.2" y="514.83">U</text>
<path d="M885.2 499.5L887.4 499.5" stroke-width="1.5"/>
<text x="890.8" y="501.23">2</text>
<text x="890.4" y="512.43">V</text>
<path d="M903.5 499.5L905.7 499.5" stroke-width="1.5"/>
<text x="909.1" y="501.23">3</text>
<text x="908" y="514.83">W</text>
<text x="852" y="504.83">-X0</text>
<text x="889.8" y="559.46" text-anchor="middle" class="m" style="font-size:8px">Motor3</text>
<path d="M431.5 398.2L431.5 429.8"/>
<circle cx="431.5" cy="417.5" r="1.7" class="d"/>
<path d="M429.1 428.8L432.1 433.8" stroke-width="1.5"/>
<path d="M431.5 433.2L431.5 488.5L523.6 488.5"/>
<circle cx="523.5" cy="488.5" r="1.6" class="d"/>
<text x="433.4" y="427.93">L1</text>
<text x="433.4" y="442.93">L1</text>
<path d="M450.5 398.2L450.5 429.8"/>
<circle cx="450.5" cy="411.5" r="1.7" class="d"/>
<path d="M448.3 428.8L451.1 433.8" stroke-width="1.5"/>
<path d="M450.5 433.2L450.5 483.5L542.4 483.5"/>
<circle cx="542.5" cy="483.5" r="1.6" class="d"/>
<text x="452.2" y="430.03">L2</text>
<text x="453" y="442.03">L2</text>
<path d="M468.5 398.2L468.5 429.8"/>
<circle cx="468.5" cy="405.5" r="1.7" class="d"/>
<path d="M466.4 428.8L469.9 433.8" stroke-width="1.5"/>
<path d="M469.5 433.2L469.5 477.5L560.6 477.5"/>
<circle cx="560.5" cy="477.5" r="1.6" class="d"/>
<text x="470.1" y="430.03">L3</text>
<text x="471" y="441.73">L3</text>
<path d="M411.5 428.5H425.5V435.5H411.5Z" stroke-width="1.3"/>
<path d="M415.7 428.7L421.7 435.2" stroke-width="1.8"/>
<path d="M418.5 420.6L418.5 428.4"/>
<path d="M418.5 435.5L418.5 442.6"/>
<path d="M425.5 431.5L428.9 431.5"/>
<path d="M428.9 431.5L479.7 431.5" stroke-dasharray="3.2 1.4"/>
<text x="411.5" y="453.03">K10</text>
<path d="M632.5 417.4L632.5 431.9"/>
<circle cx="632.5" cy="417.5" r="1.3" class="d"/>
<path d="M629.9 430.9L632.8 435.9" stroke-width="1.5"/>
<path d="M632.5 435.3L632.5 488.5L697.4 488.5"/>
<circle cx="697.5" cy="488.5" r="1.6" class="d"/>
<text x="634.2" y="430.93">L1</text>
<text x="634.2" y="444.73">L1</text>
<path d="M651.5 411.5L651.5 431.9"/>
<circle cx="651.5" cy="411.5" r="1.8" class="d"/>
<path d="M648.9 430.9L651.6 435.9" stroke-width="1.5"/>
<path d="M651.5 435.3L651.5 481.5L716.4 481.5"/>
<circle cx="716.5" cy="481.5" r="1.6" class="d"/>
<text x="653" y="432.13">L2</text>
<text x="654.1" y="444.23">L2</text>
<path d="M669.5 405.4L669.5 431.9"/>
<circle cx="669.5" cy="405.5" r="1.8" class="d"/>
<path d="M666.9 430.9L670.6 435.9" stroke-width="1.5"/>
<path d="M670.5 435.3L670.5 475.5L734.6 475.5"/>
<circle cx="734.5" cy="475.5" r="1.6" class="d"/>
<text x="671" y="432.13">L3</text>
<text x="672.2" y="444.03">L3</text>
<path d="M612.5 430.5H625.5V438.5H612.5Z" stroke-width="1.3"/>
<path d="M616.5 430.7L622.5 438.2" stroke-width="1.8"/>
<path d="M619.5 422.7L619.5 430.4"/>
<path d="M619.5 438.5L619.5 444.7"/>
<path d="M625.7 433.5L629.7 433.5"/>
<path d="M629.7 433.5L680.6 433.5" stroke-dasharray="3.2 1.4"/>
<text x="612.5" y="455.03">K20</text>
<path d="M805.5 417.4L805.5 430.6"/>
<path d="M803.7 429.6L806.8 434.6" stroke-width="1.5"/>
<path d="M806.5 434L806.5 488.5L868.6 488.5"/>
<circle cx="868.5" cy="488.5" r="1.6" class="d"/>
<text x="808" y="428.83">L1</text>
<text x="808" y="442.63">L1</text>
<path d="M825.5 411.5L825.5 430.6"/>
<path d="M823.3 429.6L825.8 434.6" stroke-width="1.5"/>
<path d="M825.5 434L825.5 481.5L887.4 481.5"/>
<circle cx="887.5" cy="481.5" r="1.6" class="d"/>
<text x="826.8" y="430.03">L2</text>
<text x="827.8" y="442.63">L2</text>
<path d="M843.5 405.4L843.5 430.6"/>
<path d="M841.4 429.6L844.5 434.6" stroke-width="1.5"/>
<path d="M844.5 434L844.5 476.5L905.7 476.5"/>
<circle cx="905.5" cy="476.5" r="1.6" class="d"/>
<text x="844.7" y="430.03">L3</text>
<text x="846" y="442.63">L3</text>
<path d="M786.5 429.5H799.5V436.5H786.5Z" stroke-width="1.3"/>
<path d="M790.5 429.9L796.5 436.3" stroke-width="1.8"/>
<path d="M792.5 421.4L792.5 429.6"/>
<path d="M792.5 436.6L792.5 443.4"/>
<path d="M799.9 432.5L803.5 432.5"/>
<path d="M803.5 432.5L854.7 432.5" stroke-dasharray="3.2 1.4"/>
<text x="787" y="453.03">K30</text>
<path d="M431.3 417.5L805.9 417.5"/>
<path d="M450.5 411.5L825.5 411.5"/>
<path d="M468.6 405.5L843.6 405.5"/>
<circle cx="489.5" cy="56.5" r="1.3" class="d"/>
<path d="M489.5 56.5L489.5 399.4" stroke-dasharray="7.2 1.4 1.6 1.4"/>
<path d="M489.5 399.5L618.8 399.5" stroke-dasharray="7.2 1.4 1.6 1.4"/>
<path d="M618.8 400.5L917.4 400.5" stroke-dasharray="7.2 1.4 1.6 1.4"/>
<circle cx="572.5" cy="399.5" r="1.6" class="d"/>
<circle cx="746.5" cy="400.5" r="1.6" class="d"/>
<path d="M572.5 399.4L572.5 531.2" stroke-dasharray="7.2 1.4 1.6 1.4"/>
<path d="M746.5 400.3L746.5 483.6" stroke-dasharray="7.2 1.4 1.6 1.4"/>
<path d="M746.5 484.2L746.5 531.2" stroke-dasharray="1.6 1.3" stroke="#999"/>
<path d="M917.5 400.3L917.5 532.8" stroke-dasharray="7.2 1.4 1.6 1.4"/>
<path d="M567 484.5L572.4 484.5"/>
<path d="M570 482.9L572.2 484.2L570 485.5" stroke-width="0.9"/>
<circle cx="572.5" cy="489.5" r="1" class="d"/>
<text x="576.3" y="492.03" class="b">PE</text>
<path d="M586.4 484.5L590.6 484.5" stroke-dasharray="1 1.1"/>
<text x="592.6" y="489.03" class="b">PE</text>
<path d="M742.3 483.5L749 483.5"/>
<circle cx="746.5" cy="488.5" r="1" class="d"/>
<text x="750.9" y="492.03" class="b">PE</text>
<path d="M760.4 484.5L765 484.5" stroke-dasharray="1.7 1.2"/>
<path d="M912 486.5L917.4 486.5"/>
<path d="M915 484.9L917.2 486.2L915 487.5" stroke-width="0.9"/>
<circle cx="917.5" cy="491.5" r="1" class="d"/>
<text x="921" y="492.83" class="b">PE</text>
<path d="M931 486.5L935.4 486.5" stroke-dasharray="1 1.1"/>
<text x="938.3" y="489.83" class="b">PE</text>
<text x="836" y="566.6" class="w" textLength="7.7" lengthAdjust="spacingAndGlyphs">w</text>
<text x="844" y="566.6" class="w" textLength="7.7" lengthAdjust="spacingAndGlyphs">w</text>
<text x="852" y="566.6" class="w" textLength="7.7" lengthAdjust="spacingAndGlyphs">w</text>
<text x="858.4" y="566.6" class="w">.</text>
<text x="868" y="566.6" class="w">d</text>
<text x="876" y="566.6" class="w">q</text>
<text x="884" y="566.6" class="w">j</text>
<text x="892" y="566.6" class="w">s</text>
<text x="900" y="566.6" class="w" textLength="7.7" lengthAdjust="spacingAndGlyphs">w</text>
<text x="906.4" y="566.6" class="w">.</text>
<text x="916" y="566.6" class="w">c</text>
<text x="924" y="566.6" class="w">o</text>
<text x="932" y="566.6" class="w" textLength="7.7" lengthAdjust="spacingAndGlyphs">m</text>
<text x="938.4" y="566.6" class="w">.</text>
<text x="948" y="566.6" class="w">c</text>
<text x="956" y="566.6" class="w">n</text>
</svg>
</body></html>
